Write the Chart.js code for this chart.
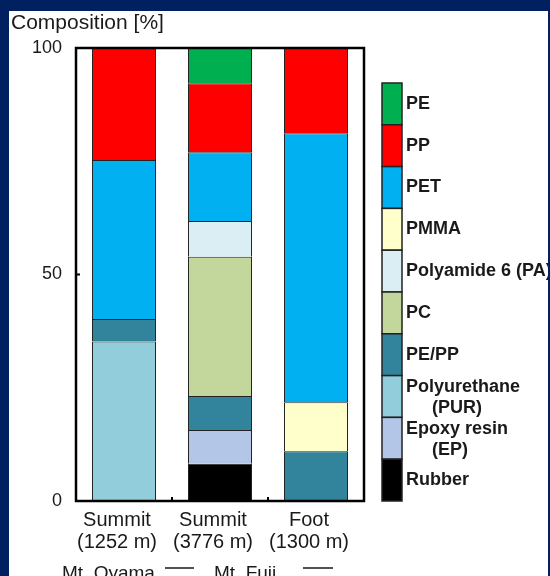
<!DOCTYPE html>
<html>
<head>
<meta charset="utf-8">
<script src="https://cdn.jsdelivr.net/npm/chart.js@4"></script>
<style>
  html, body { margin: 0; padding: 0; background: #002060; }
  #panel { position: absolute; left: 9px; top: 11px; width: 539px; height: 565px; background: #fff; overflow: hidden; }
  canvas { display: block; }
</style>
</head>
<body>
<div id="panel"><canvas id="chart" width="539" height="565"></canvas></div>
<script>
// sites (x categories)
const sites = [['Summit', '(1252 m)'], ['Summit', '(3776 m)'], ['Foot', '(1300 m)']];
const yTicks = [0, 50, 100];

// materials, bottom of the stack first
const materials = [
  ['Rubber'], ['Epoxy resin', '(EP)'], ['Polyurethane', '(PUR)'], ['PE/PP'], ['PC'],
  ['Polyamide 6 (PA)'], ['PMMA'], ['PET'], ['PP'], ['PE']
];
const colors = [
  '#000000', '#b4c6e7', '#92cddc', '#31849b', '#c3d69b',
  '#dbeef4', '#ffffcc', '#00b0f0', '#ff0000', '#00b050'
];

// composition [%] per site
const rubber = [null, 8.2, null];
const epoxy = [null, 7.5, null];
const pur = [35.2, null, null];
const pepp = [5, 7.5, 11];
const pc = [null, 30.7, null];
const pa = [null, 7.9, null];
const pmma = [null, null, 10.8];
const pet = [35.1, 15.2, 59.4];
const pp = [24.7, 15.2, 18.8];
const pe = [null, 7.8, null];
const series = [rubber, epoxy, pur, pepp, pc, pa, pmma, pet, pp, pe];

const mountains = ['Mt. Oyama', 'Mt. Fuji'];

const FONT = '"Liberation Sans", Arial, sans-serif';
const INK = '#1a1a1a';

const decorations = {
  id: 'decorations',
  afterDatasetsDraw(chart) {
    const { ctx, chartArea: a, scales } = chart;
    ctx.save();
    // frame
    ctx.strokeStyle = '#000';
    ctx.lineWidth = 2.5;
    ctx.strokeRect(a.left, a.top, a.right - a.left, a.bottom - a.top);
    ctx.lineWidth = 2;
    // inward y ticks
    yTicks.forEach(v => {
      const y = scales.y.getPixelForValue(v);
      ctx.beginPath(); ctx.moveTo(a.left, y); ctx.lineTo(a.left + 4, y); ctx.stroke();
    });
    // small ticks between categories
    for (let i = 0; i < sites.length - 1; i++) {
      const x = (scales.x.getPixelForValue(i) + scales.x.getPixelForValue(i + 1)) / 2;
      ctx.beginPath(); ctx.moveTo(x, a.bottom); ctx.lineTo(x, a.bottom - 4); ctx.stroke();
    }

    // title
    ctx.fillStyle = INK;
    ctx.font = '21px ' + FONT;
    ctx.textAlign = 'left';
    ctx.textBaseline = 'middle';
    ctx.fillText('Composition [%]', 2, 12);

    // legend column, top = last material
    const lx = 373, lw = 20, ltop = 72, lbottom = a.bottom;
    const n = materials.length;
    const h = (lbottom - ltop) / n;
    ctx.font = 'bold 18px ' + FONT;
    for (let k = 0; k < n; k++) {
      const i = n - 1 - k;
      const y0 = ltop + k * h;
      ctx.fillStyle = colors[i];
      ctx.fillRect(lx, y0, lw, h);
      ctx.strokeStyle = '#222';
      ctx.lineWidth = 1.5;
      ctx.strokeRect(lx, y0, lw, h);
      ctx.fillStyle = INK;
      const lines = materials[i];
      const cy = y0 + h / 2;
      if (lines.length === 1) {
        ctx.fillText(lines[0], lx + lw + 4, cy);
      } else {
        ctx.fillText(lines[0], lx + lw + 4, cy - 9);
        ctx.fillText(lines[1], lx + lw + 30, cy + 12);
      }
    }

    // mountain captions
    ctx.font = '19px ' + FONT;
    ctx.textBaseline = 'alphabetic';
    ctx.fillStyle = INK;
    ctx.fillText(mountains[0], 53, 568);
    ctx.fillText(mountains[1], 205, 568);
    ctx.strokeStyle = INK;
    ctx.lineWidth = 1.5;
    ctx.beginPath();
    ctx.moveTo(156, 557); ctx.lineTo(185, 557);
    ctx.moveTo(294, 557); ctx.lineTo(324, 557);
    ctx.stroke();
    ctx.restore();
  }
};

new Chart(document.getElementById('chart'), {
  type: 'bar',
  data: {
    labels: sites,
    datasets: materials.map((m, i) => ({
      label: m.join(' '),
      data: series[i],
      backgroundColor: colors[i],
      borderColor: '#222',
      borderWidth: 1,
      barPercentage: 0.667,
      categoryPercentage: 1,
    })),
  },
  options: {
    responsive: false,
    animation: false,
    layout: { padding: { left: 0, top: 37, right: 184, bottom: 0 } },
    plugins: { legend: { display: false }, tooltip: { enabled: false } },
    scales: {
      x: {
        stacked: true,
        grid: { display: false },
        border: { display: false },
        ticks: { color: INK, font: { family: FONT, size: 20, lineHeight: 1.1 }, padding: 0, labelOffset: -7, maxRotation: 0 },
        afterFit: s => { s.height = 75; },
      },
      y: {
        stacked: true,
        min: 0,
        max: 100,
        grid: { display: false },
        border: { display: false },
        afterBuildTicks: s => { s.ticks = yTicks.map(v => ({ value: v })); },
        ticks: { color: INK, font: { family: FONT, size: 18 }, padding: 6 },
        afterFit: s => { s.width = 67; },
      },
    },
  },
  plugins: [decorations],
});
</script>
</body>
</html>
